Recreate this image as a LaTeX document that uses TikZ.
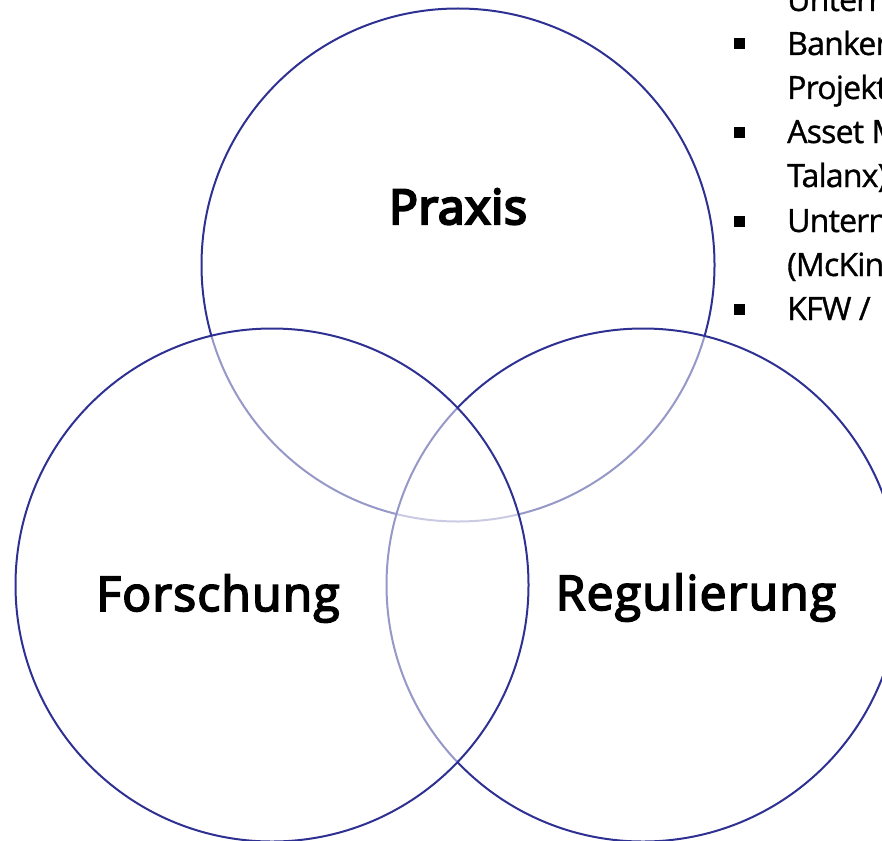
\documentclass[tikz,border=0pt]{standalone}
\usepackage{fontspec}
\setmainfont{Open Sans}
\newfontfamily\lblfont[FakeBold=3.5, LetterSpace=2.5]{Open Sans}
\newfontfamily\praxfont[FakeBold=5, LetterSpace=1.5]{Open Sans}
\newfontfamily\itemfont[FakeBold=1, LetterSpace=-2.5]{Open Sans}
\definecolor{ringc}{RGB}{46,49,146}
\tikzset{
  ring/.style={circle, draw=ringc, line width=2pt, fill=white, fill opacity=0.5, minimum size=513pt, inner sep=0pt},
  biglbl/.style={anchor=base, inner sep=0pt, font=\lblfont\fontsize{48}{56}\selectfont},
  itemtxt/.style={anchor=base west, inner sep=0pt, font=\itemfont\fontsize{32}{44}\selectfont},
  bulletsq/.style={fill=black, minimum size=11pt, inner sep=0pt}
}
\begin{document}
\begin{tikzpicture}[x=1pt,y=-1pt]
\useasboundingbox (0,0) rectangle (882,840);
\clip (0,0) rectangle (882,840);
\node[ring] (cp) at (458,265) {};
\node[ring] (cr) at (643,585) {};
\node[ring] (cf) at (272,585) {};
\node[biglbl, font=\praxfont\fontsize{48}{56}\selectfont] (lp) at (458,224) {Praxis};
\node[biglbl] (lf) at (218,611) {Forschung};
\node[biglbl] (lr) at (696,610) {Regulierung};
% bullet list
\node[itemtxt] (t0) at (787,11) {Unterne};
\node[bulletsq] (b1) at (739.5,44) {};
\node[itemtxt] (t1) at (787,55) {Banken};
\node[itemtxt] (t1b) at (787,99) {Projekte};
\node[bulletsq] (b2) at (739.5,132) {};
\node[itemtxt] (t2) at (787,143) {Asset Ma};
\node[itemtxt] (t2b) at (787,187) {Talanx)};
\node[bulletsq] (b3) at (739.5,221) {};
\node[itemtxt] (t3) at (787,232) {Unterne};
\node[itemtxt] (t3b) at (787,276) {(McKins};
\node[bulletsq] (b4) at (739.5,309) {};
\node[itemtxt] (t4) at (787,320) {KFW /};
\end{tikzpicture}
\end{document}
